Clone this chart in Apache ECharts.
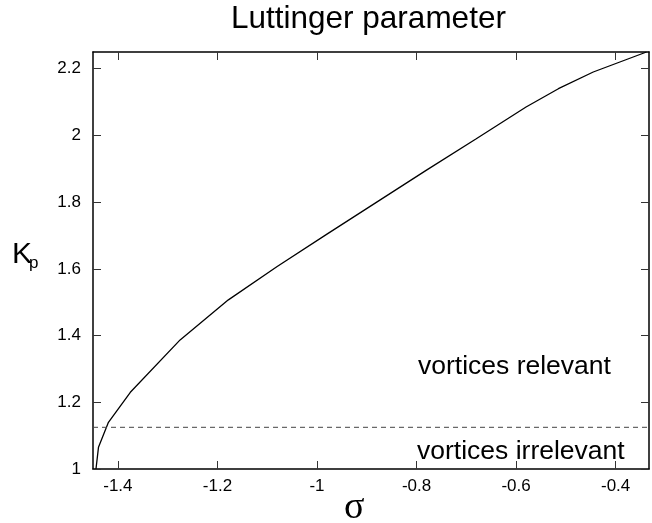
<!DOCTYPE html>
<html>
<head>
<meta charset="utf-8">
<script src="https://cdn.jsdelivr.net/npm/echarts@6/dist/echarts.min.js"></script>
<style>
  html, body { margin: 0; padding: 0; background: #fff; }
  #chart { width: 652px; height: 523px; }
</style>
</head>
<body>
<div id="chart"></div>
<script>
// curve
const sigma = [-1.444, -1.439, -1.419, -1.375, -1.275, -1.178, -1.08, -0.98, -0.88, -0.78, -0.68, -0.58, -0.515, -0.445, -0.338];
const kp = [1.0, 1.065, 1.14, 1.23, 1.387, 1.507, 1.607, 1.704, 1.8, 1.896, 1.99, 2.085, 2.14, 2.19, 2.25];

const threshold = 1.125;
const xTicks = [-1.4, -1.2, -1, -0.8, -0.6, -0.4];
const yTicks = [1, 1.2, 1.4, 1.6, 1.8, 2, 2.2];
const xRange = [-1.45, -0.333];
const yRange = [1, 2.25];

const font = "'Liberation Sans', Arial, Helvetica, sans-serif";

const chart = echarts.init(document.getElementById("chart"));

const frameLine = { show: true, onZero: false, lineStyle: { color: "#000", width: 1.5 } };
const innerTick = (vals) => ({
    show: true,
    inside: true,
    length: 8,
    customValues: vals,
    lineStyle: { color: "#333", width: 1 },
});

chart.setOption({
    animation: false,
    title: {
        text: "Luttinger parameter",
        left: 231,
        top: 3,
        padding: 0,
        textStyle: { fontFamily: font, fontSize: 31.5, fontWeight: "normal", color: "#000" },
    },
    grid: { left: 93, right: 3, top: 52, bottom: 54 },
    xAxis: [
        {
            type: "value",
            min: xRange[0],
            max: xRange[1],
            axisLine: frameLine,
            axisTick: innerTick(xTicks),
            axisLabel: {
                customValues: xTicks,
                margin: 9,
                color: "#000",
                fontFamily: font,
                fontSize: 17,
            },
            splitLine: { show: false },
        },
        {
            type: "value",
            position: "top",
            min: xRange[0],
            max: xRange[1],
            axisLine: frameLine,
            axisTick: innerTick(xTicks),
            axisLabel: { show: false },
            splitLine: { show: false },
        },
    ],
    yAxis: [
        {
            type: "value",
            min: yRange[0],
            max: yRange[1],
            axisLine: frameLine,
            axisTick: innerTick(yTicks),
            axisLabel: {
                customValues: yTicks,
                margin: 12,
                color: "#000",
                fontFamily: font,
                fontSize: 17,
            },
            splitLine: { show: false },
        },
        {
            type: "value",
            position: "right",
            min: yRange[0],
            max: yRange[1],
            axisLine: frameLine,
            axisTick: innerTick(yTicks),
            axisLabel: { show: false },
            splitLine: { show: false },
        },
    ],
    series: [
        {
            type: "line",
            data: sigma.map((s, i) => [s, kp[i]]),
            symbol: "none",
            lineStyle: { color: "#000", width: 1.3 },
        },
        {
            type: "line",
            data: [[xRange[0], threshold], [xRange[1], threshold]],
            symbol: "none",
            lineStyle: { color: "#444", width: 1, type: [5, 4] },
        },
    ],
    graphic: [
        {
            type: "text",
            left: 418,
            top: 353,
            style: { text: "vortices relevant", fontFamily: font, fontSize: 26.5, fill: "#000" },
        },
        {
            type: "text",
            left: 417,
            top: 438,
            style: { text: "vortices irrelevant", fontFamily: font, fontSize: 26.5, fill: "#000" },
        },
        {
            type: "text",
            left: 12,
            top: 240,
            style: { text: "K", fontFamily: font, fontSize: 30, fill: "#000" },
        },
        {
            type: "text",
            left: 29,
            top: 255,
            style: { text: "p", fontFamily: font, fontSize: 17, fill: "#000" },
        },
        {
            type: "text",
            left: 344,
            top: 489,
            style: { text: "σ", fontFamily: "'Liberation Serif', 'Times New Roman', serif", fontSize: 38, fill: "#000" },
        },
    ],
});
</script>
</body>
</html>
